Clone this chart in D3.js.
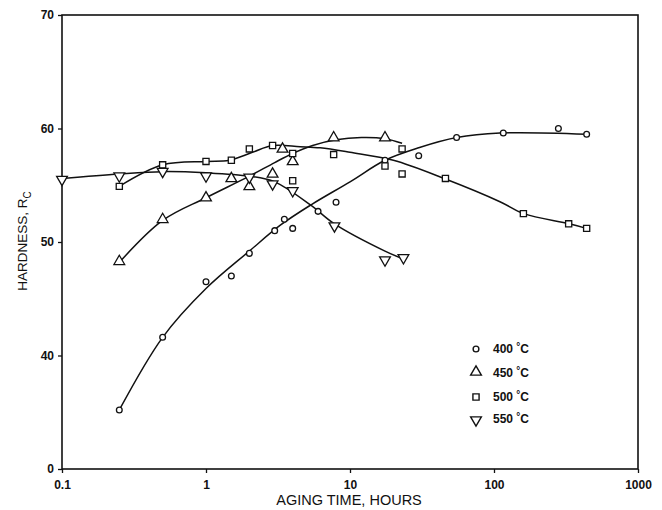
<!DOCTYPE html>
<html lang="en">
<head>
<meta charset="UTF-8">
<title>Hardness vs aging time</title>
<style>
body {
    margin: 0;
    background-color: #fff;
}
svg {
    display: block;
}
text {
    fill: #111;
}
.tick-label {
    font-family: "Liberation Sans", Arial, sans-serif;
    font-weight: bold;
    font-size: 12px;
}
</style>
</head>
<body>
<div id="plot"></div>
<script src="https://cdn.jsdelivr.net/npm/d3@7"></script>
<script>

const w = 662,
      h = 510;

// measured points (aging time in hours, hardness Rc)
const s400 = [[0.25,35.2],[0.5,41.6],[1,46.5],[1.5,47.0],[2,49.0],[3,51.0],[3.5,52.0],[4,51.2],[6,52.7],[8,53.5],[17.5,57.2],[30,57.6],[55,59.2],[116,59.6],[280,60.0],[440,59.5]];
const s450 = [[0.25,48.2],[0.5,51.9],[1,53.8],[1.5,55.5],[2,54.8],[2.9,55.9],[3.4,58.1],[4,57.0],[7.7,59.1],[17.5,59.1]];
const s500 = [[0.25,54.9],[0.5,56.8],[1,57.1],[1.5,57.2],[2,58.2],[2.9,58.5],[4,57.8],[4,55.4],[7.7,57.7],[17.5,56.7],[23,58.2],[23,56.0],[46,55.6],[160,52.5],[330,51.6],[440,51.2]];
const s550 = [[0.1,55.6],[0.25,55.9],[0.5,56.3],[1,55.9],[2,55.8],[2.9,55.2],[4,54.6],[7.8,51.5],[17.5,48.5],[23.5,48.7]];

// hand drawn fitted curves
const c400 = [[0.25,35.2],[0.5,41.6],[1,45.9],[2,49.2],[3.3,51.5],[5.4,53.3],[10,55.3],[17.5,57.2],[30,58.3],[55,59.2],[110,59.6],[440,59.5]];
const c450 = [[0.25,48.2],[0.5,51.9],[1,53.9],[2,55.8],[3,57.0],[4,57.8],[5.5,58.5],[8,59.0],[12,59.2],[17.5,59.1],[23,58.7]];
const c500 = [[0.25,54.9],[0.5,56.8],[1,57.1],[1.45,57.2],[2.1,57.9],[2.9,58.5],[4.5,58.4],[6.2,58.3],[10,57.9],[20,57.2],[46,55.55],[110,53.55],[161,52.5],[333,51.6],[438,51.2]];
const c550 = [[0.1,55.6],[0.25,56.0],[0.5,56.2],[1,56.1],[2,55.8],[3,55.3],[5.4,53.2],[7.8,51.6],[17.5,49.2],[23.5,48.5]];

const xTicks = [0.1, 1, 10, 100, 1000];
const xTickLabels = ["0.1", "1", "10", "100", "1000"];
const yTicks = [30, 40, 50, 60, 70];
const yTickLabels = ["0", "40", "50", "60", "70"];   // suppressed zero at bottom

const seriesNames = ["400", "450", "500", "550"];
const seriesPoints = [s400, s450, s500, s550];
const seriesCurves = [c400, c450, c500, c550];
const seriesMarks = ["circle", "up", "square", "down"];

const svg = d3.select("#plot").append("svg")
    .attr("width", w)
    .attr("height", h);

const x = d3.scaleLog().domain([0.1, 1000]).range([62, 638]);
const y = d3.scaleLinear().domain([30, 70]).range([469, 15]);

// frame
svg.append("rect")
    .attr("x", x(0.1)).attr("y", y(70))
    .attr("width", x(1000) - x(0.1))
    .attr("height", y(30) - y(70))
    .attr("fill", "none")
    .attr("stroke", "#111")
    .attr("stroke-width", 1.6);

// axes
const xAxis = d3.axisBottom(x)
    .tickValues(xTicks)
    .tickSize(4)
    .tickFormat((d, i) => xTickLabels[i]);
const yAxis = d3.axisLeft(y)
    .tickValues(yTicks)
    .tickSize(4)
    .tickFormat((d, i) => yTickLabels[i]);

svg.append("g")
    .attr("transform", `translate(0,${y(30)})`)
    .call(xAxis)
    .call(g => g.select(".domain").remove())
    .call(g => g.selectAll("line").attr("stroke", "#111").attr("stroke-width", 1.3))
    .call(g => g.selectAll("text").attr("class", "tick-label").attr("dy", "1.1em"));

svg.append("g")
    .attr("transform", `translate(${x(0.1)},0)`)
    .call(yAxis)
    .call(g => g.select(".domain").remove())
    .call(g => g.selectAll("line").attr("stroke", "#111").attr("stroke-width", 1.3))
    .call(g => g.selectAll("text").attr("class", "tick-label").attr("x", -8));

// axis titles
svg.append("text")
    .attr("x", 349).attr("y", 505)
    .attr("text-anchor", "middle")
    .attr("font-family", "'Liberation Sans', Arial, sans-serif")
    .attr("font-size", 14.5)
    .text("AGING TIME, HOURS");

const yTitle = svg.append("text")
    .attr("transform", "translate(27,241) rotate(-90)")
    .attr("text-anchor", "middle")
    .attr("font-family", "'Liberation Sans', Arial, sans-serif")
    .attr("font-size", 13.5);
yTitle.append("tspan").text("HARDNESS, R");
yTitle.append("tspan").attr("font-size", 10).attr("dy", 4).text("C");

// curves
const line = d3.line()
    .x(d => x(d[0]))
    .y(d => y(d[1]))
    .curve(d3.curveCatmullRom.alpha(0.5));

svg.selectAll(".fit")
    .data(seriesCurves)
    .join("path")
    .attr("class", "fit")
    .attr("d", line)
    .attr("fill", "none")
    .attr("stroke", "#111")
    .attr("stroke-width", 1.5);

// marker shapes
function markPath(kind) {
    if (kind === "circle") return d3.symbol().type(d3.symbolCircle).size(26)();
    if (kind === "square") return d3.symbol().type(d3.symbolSquare).size(38)();
    return d3.symbol().type(d3.symbolTriangle).size(50)();
}
function markTransform(kind, px, py) {
    if (kind === "up") return `translate(${px},${py - 1})`;
    if (kind === "down") return `translate(${px},${py + 1}) rotate(180)`;
    return `translate(${px},${py})`;
}

seriesPoints.forEach((pts, i) => {
    const kind = seriesMarks[i];
    svg.append("g")
        .selectAll("path")
        .data(pts)
        .join("path")
        .attr("d", markPath(kind))
        .attr("transform", d => markTransform(kind, x(d[0]), y(d[1])))
        .attr("fill", "#fff")
        .attr("stroke", "#111")
        .attr("stroke-width", 1.3);
});

// legend
const legendY = [349, 373, 397, 419];
const legend = svg.append("g");
seriesNames.forEach((name, i) => {
    const kind = seriesMarks[i];
    legend.append("path")
        .attr("d", markPath(kind))
        .attr("transform", markTransform(kind, 476, legendY[i]))
        .attr("fill", "#fff")
        .attr("stroke", "#111")
        .attr("stroke-width", 1.4);
    const t = legend.append("text")
        .attr("x", 493)
        .attr("y", legendY[i] + 4)
        .attr("class", "tick-label")
        .attr("font-size", 11.5);
    t.append("tspan").text(name + " ");
    t.append("tspan").attr("font-size", 10).attr("dy", -3).text("°");
    t.append("tspan").attr("dy", 3).text("C");
});
</script>
</body>
</html>
